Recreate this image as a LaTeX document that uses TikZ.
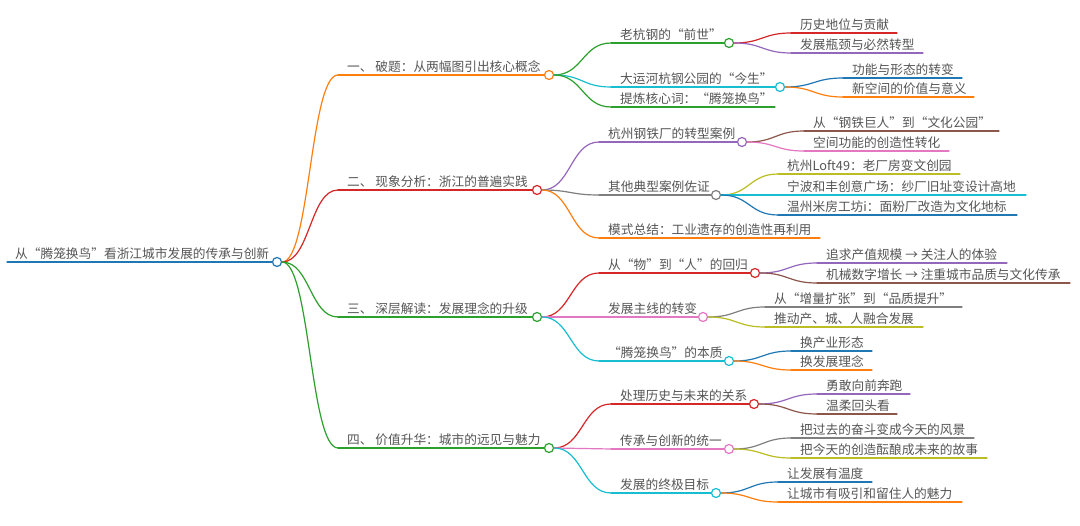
\documentclass[tikz,border=0pt]{standalone}
\usepackage{fontspec}
\setmainfont{Noto Sans CJK SC}
\usetikzlibrary{calc}
\definecolor{mblue}{HTML}{1F77B4}
\definecolor{morange}{HTML}{FF7F0E}
\definecolor{mgreen}{HTML}{2CA02C}
\definecolor{mred}{HTML}{D62728}
\definecolor{mpurple}{HTML}{9467BD}
\definecolor{mbrown}{HTML}{8C564B}
\definecolor{mpink}{HTML}{E377C2}
\definecolor{mgray}{HTML}{7F7F7F}
\definecolor{molive}{HTML}{BCBD22}
\definecolor{mcyan}{HTML}{17BECF}
\definecolor{mtext}{HTML}{555555}
\tikzset{
  txt/.style={anchor=base west,inner sep=0pt,text=mtext,font=\fontsize{12.7}{14}\selectfont},
  roottxt/.style={txt},
  edge/.style={line width=1.2pt,line cap=round},
  dot/.style={circle,fill=white,line width=1.2pt,minimum size=9pt,inner sep=0pt}
}
% inner node: name, colour, y, start x, circle x, text
\newcommand\mmInner[6]{%
  \coordinate (#1S) at (#4,#3);
  \node[txt] (#1T) at ({#4+9},{#3-3.8}) {#6};
  \draw[edge,#2] (#1S) -- (#5,#3);
  \node[dot,draw=#2] (#1) at (#5,#3) {};
}
% leaf node: name, colour, y, start x, end x, text
\newcommand\mmLeaf[6]{%
  \coordinate (#1S) at (#4,#3);
  \coordinate (#1E) at (#5,#3);
  \node[txt] (#1T) at ({#4+9},{#3-3.8}) {#6};
  \draw[edge,#2] (#1S) -- (#1E);
}
% link: colour, parent, child
\newcommand\mmLink[3]{%
  \draw[edge,#1] let \p1=(#2.east), \p2=(#3S) in
    (\p1) .. controls ({(\x1+\x2)/2},\y1) and ({(\x1+\x2)/2},\y2) .. (\p2);
}
\begin{document}
\begin{tikzpicture}[x=1pt,y=-1pt]
\path[use as bounding box,fill=white] (0,0) rectangle (1080,526);
% root
\coordinate (rS) at (7,262);
\node[roottxt] (rT) at (15,258.2) {从“腾笼换鸟”看浙江城市发展的传承与创新};
\draw[edge,mblue] (rS) -- (277,262);
\node[dot,draw=mblue] (r) at (277,262) {};
% level 1
\mmInner{n1}{morange}{75}{338}{549}{一、 破题：从两幅图引出核心概念}
\mmInner{n2}{mred}{190}{338}{537}{二、 现象分析：浙江的普遍实践}
\mmInner{n3}{mgreen}{317}{338}{537}{三、 深层解读：发展理念的升级}
\mmInner{n4}{mgreen}{448}{338}{549}{四、 价值升华：城市的远见与魅力}
\mmLink{morange}{r}{n1}
\mmLink{mred}{r}{n2}
\mmLink{mgreen}{r}{n3}
\mmLink{mgreen}{r}{n4}
% branch 1
\mmInner{a1}{mgreen}{43}{611}{729}{老杭钢的“前世”}
\mmInner{a2}{mcyan}{87}{611}{780}{大运河杭钢公园的“今生”}
\mmLeaf{a3}{mgreen}{107}{611}{775}{提炼核心词：“腾笼换鸟”}
\mmLink{mgreen}{n1}{a1}
\mmLink{mcyan}{n1}{a2}
\mmLink{mgreen}{n1}{a3}
\mmLeaf{b1}{mred}{33}{791}{897}{历史地位与贡献}
\mmLeaf{b2}{mpurple}{53}{791}{923}{发展瓶颈与必然转型}
\mmLink{mred}{a1}{b1}
\mmLink{mpurple}{a1}{b2}
\mmLeaf{b3}{mblue}{78}{843}{962}{功能与形态的转变}
\mmLeaf{b4}{morange}{97}{843}{974}{新空间的价值与意义}
\mmLink{mblue}{a2}{b3}
\mmLink{morange}{a2}{b4}
% branch 2
\mmInner{a4}{mpurple}{142}{599}{742}{杭州钢铁厂的转型案例}
\mmInner{a5}{mgray}{195}{599}{716}{其他典型案例佐证}
\mmLeaf{a6}{morange}{238}{599}{820}{模式总结：工业遗存的创造性再利用}
\mmLink{mpurple}{n2}{a4}
\mmLink{mgray}{n2}{a5}
\mmLink{morange}{n2}{a6}
\mmLeaf{b5}{mbrown}{131}{804}{999}{从“钢铁巨人”到“文化公园”}
\mmLeaf{b6}{mpink}{151}{804}{949}{空间功能的创造性转化}
\mmLink{mbrown}{a4}{b5}
\mmLink{mpink}{a4}{b6}
\mmLeaf{b7}{molive}{174}{778}{960}{杭州Loft49：老厂房变文创园}
\mmLeaf{b8}{mcyan}{195}{778}{1026}{宁波和丰创意广场：纱厂旧址变设计高地}
\mmLeaf{b9}{mblue}{215}{778}{1017}{温州米房工坊i：面粉厂改造为文化地标}
\mmLink{molive}{a5}{b7}
\mmLink{mcyan}{a5}{b8}
\mmLink{mblue}{a5}{b9}
% branch 3
\mmInner{a7}{mred}{273}{599}{755}{从“物”到“人”的回归}
\mmInner{a8}{mpink}{317}{599}{703}{发展主线的转变}
\mmInner{a9}{mcyan}{361}{599}{729}{“腾笼换鸟”的本质}
\mmLink{mred}{n3}{a7}
\mmLink{mpink}{n3}{a8}
\mmLink{mcyan}{n3}{a9}
\mmLeaf{b10}{mpurple}{263}{817}{1007}{追求产值规模 → 关注人的体验}
\mmLeaf{b11}{mbrown}{283}{817}{1070}{机械数字增长 → 注重城市品质与文化传承}
\mmLink{mpurple}{a7}{b10}
\mmLink{mbrown}{a7}{b11}
\mmLeaf{b12}{mgray}{307}{765}{962}{从“增量扩张”到“品质提升”}
\mmLeaf{b13}{molive}{327}{765}{923}{推动产、城、人融合发展}
\mmLink{mgray}{a8}{b12}
\mmLink{molive}{a8}{b13}
\mmLeaf{b14}{mblue}{351}{791}{872}{换产业形态}
\mmLeaf{b15}{morange}{370}{791}{872}{换发展理念}
\mmLink{mblue}{a9}{b14}
\mmLink{morange}{a9}{b15}
% branch 4
\mmInner{a10}{mred}{404}{611}{754}{处理历史与未来的关系}
\mmInner{a11}{mpink}{449}{611}{729}{传承与创新的统一}
\mmInner{a12}{mcyan}{493}{611}{716}{发展的终极目标}
\mmLink{mred}{n4}{a10}
\mmLink{mpink}{n4}{a11}
\mmLink{mcyan}{n4}{a12}
\mmLeaf{b16}{mpurple}{394}{817}{910}{勇敢向前奔跑}
\mmLeaf{b17}{mbrown}{414}{817}{897}{温柔回头看}
\mmLink{mpurple}{a10}{b16}
\mmLink{mbrown}{a10}{b17}
\mmLeaf{b18}{mgray}{438}{791}{974}{把过去的奋斗变成今天的风景}
\mmLeaf{b19}{molive}{458}{791}{987}{把今天的创造酝酿成未来的故事}
\mmLink{mgray}{a11}{b18}
\mmLink{molive}{a11}{b19}
\mmLeaf{b20}{mblue}{482}{778}{872}{让发展有温度}
\mmLeaf{b21}{morange}{502}{778}{962}{让城市有吸引和留住人的魅力}
\mmLink{mblue}{a12}{b20}
\mmLink{morange}{a12}{b21}
\end{tikzpicture}
\end{document}
